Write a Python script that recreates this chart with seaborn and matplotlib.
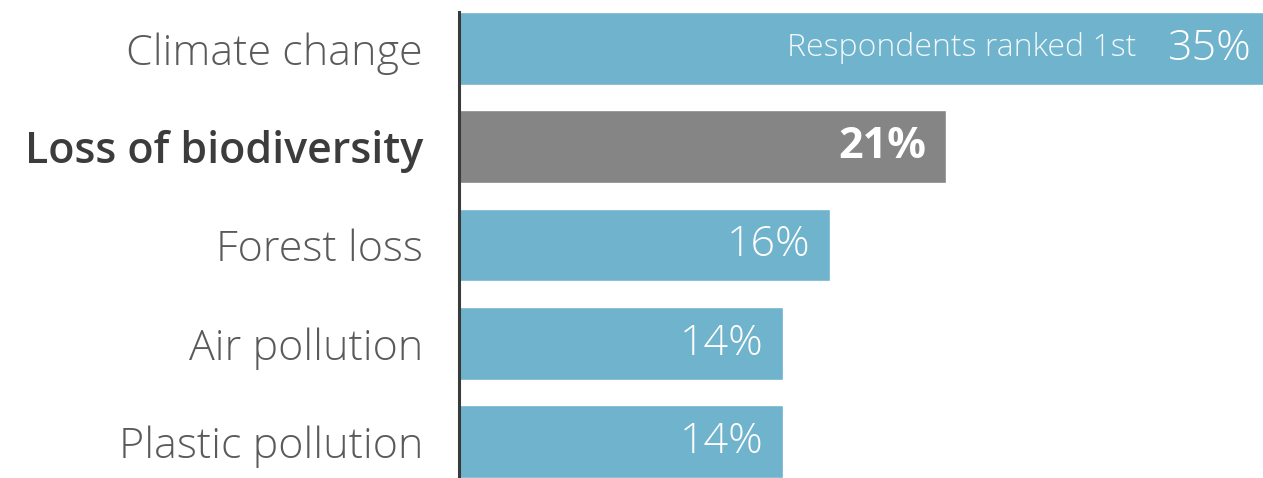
import matplotlib
matplotlib.use("Agg")
import matplotlib.pyplot as plt
import seaborn as sns
import pandas as pd

categories = ["Climate change", "Loss of biodiversity", "Forest loss", "Air pollution", "Plastic pollution"]
values = [35, 21, 16, 14, 14]
highlight = "Loss of biodiversity"
first_note = "Respondents ranked 1st"

BLUE = "#6fb3cc"
GRAY = "#858585"

sns.set_theme(style="white")
plt.rcParams["font.family"] = ["Open Sans", "DejaVu Sans"]

df = pd.DataFrame({"cat": categories, "val": values})
colors = [GRAY if c == highlight else BLUE for c in categories]

W, H = 1263, 478
fig = plt.figure(figsize=(W / 100, H / 100), dpi=100)
ax = fig.add_axes([459 / W, 0, 1 - 459 / W, (478 - 12) / H])

sns.barplot(data=df, y="cat", x="val", hue="cat", palette=colors, legend=False,
            orient="h", width=0.74, ax=ax, saturation=1)

ax.set_xlim(0, 34.7)
ax.set_ylim(4.37, -0.37)
ax.set_xlabel("")
ax.set_ylabel("")
ax.set_xticks([])
for s in ["top", "right", "bottom"]:
    ax.spines[s].set_visible(False)
ax.spines["left"].set_color("#3a3a3a")
ax.spines["left"].set_linewidth(2.2)

ax.set_yticks(range(len(categories)))
ax.set_yticklabels(categories)
ax.tick_params(axis="y", length=0, pad=26)
for lbl in ax.get_yticklabels():
    if lbl.get_text() == highlight:
        lbl.set_fontweight("semibold")
        lbl.set_color("#3c3c3c")
        lbl.set_fontsize(31)
    else:
        lbl.set_fontweight("light")
        lbl.set_color("#5a5a5a")
        lbl.set_fontsize(31)

for i, (c, v) in enumerate(zip(categories, values)):
    bold = c == highlight
    pad = -9 if i == 0 else -14
    ax.annotate(f"{v}%", xy=(min(v, 34.7), i), xytext=(pad, 0), textcoords="offset points",
                ha="right", va="center", color="white", fontsize=31,
                fontweight="bold" if bold else "light")
    if i == 0:
        ax.annotate(first_note, xy=(min(v, 34.7), i), xytext=(-91, 0), textcoords="offset points",
                    ha="right", va="center", color="#f0f8fb", fontsize=23,
                    fontweight="light")

fig.savefig("out.png", dpi=100)
